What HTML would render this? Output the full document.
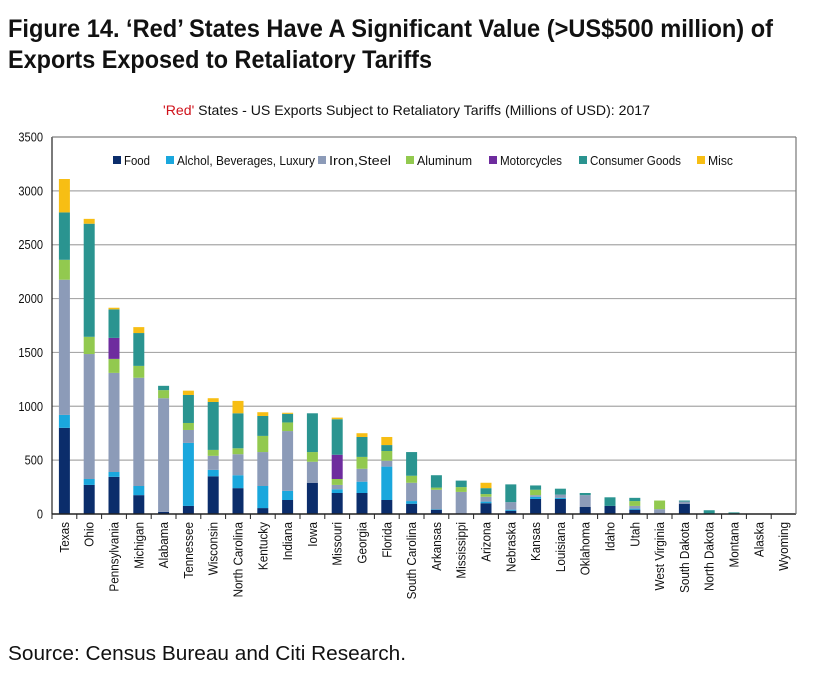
<!DOCTYPE html>
<html><head><meta charset="utf-8">
<style>
html,body{margin:0;padding:0;background:#fff;}
svg{display:block;font-family:"Liberation Sans Narrow","Liberation Sans",sans-serif;}
</style></head>
<body>
<svg id="c" width="835" height="676" xmlns="http://www.w3.org/2000/svg">
<text x="8" y="37" font-size="25" font-weight="bold" fill="#111" textLength="765" lengthAdjust="spacingAndGlyphs">Figure 14. ‘Red’ States Have A Significant Value (&gt;US$500 million) of</text>
<text x="8" y="68" font-size="25" font-weight="bold" fill="#111" textLength="424" lengthAdjust="spacingAndGlyphs">Exports Exposed to Retaliatory Tariffs</text>
<text x="163" y="115" font-size="14" fill="#111" textLength="487" lengthAdjust="spacingAndGlyphs"><tspan fill="#d0121b">'Red'</tspan> States - US Exports Subject to Retaliatory Tariffs (Millions of USD):  2017</text>
<text x="8" y="660" font-size="20" fill="#111" font-family="Liberation Sans, sans-serif" textLength="398" lengthAdjust="spacingAndGlyphs">Source: Census Bureau and Citi Research.</text>
<g id="g"></g>
</svg>
<script>
const g=document.getElementById('g');
const NS='http://www.w3.org/2000/svg';
function el(t,a,txt){const e=document.createElementNS(NS,t);for(const k in a)e.setAttribute(k,a[k]);if(txt!==undefined)e.textContent=txt;g.appendChild(e);return e;}
const X0=52,X1=796,Y0=514,YT=137,k=(Y0-YT)/3500;
const cols=['#0b2d6b','#1aa7dd','#8c9bb8','#92c94f','#6e2c9e','#2a9490','#f7be14'];
const d=[
['Texas',800,920,2175,2360,2360,2800,3110],
['Ohio',270,325,1485,1645,1645,2695,2740],
['Pennsylvania',345,390,1310,1440,1635,1900,1915],
['Michigan',175,260,1265,1375,1375,1680,1735],
['Alabama',20,20,1075,1150,1150,1190,1190],
['Tennessee',75,660,780,845,845,1105,1145],
['Wisconsin',350,410,540,595,595,1040,1075],
['North Carolina',240,360,555,610,610,935,1050],
['Kentucky',55,260,575,725,725,910,945],
['Indiana',130,215,770,850,850,930,940],
['Iowa',290,290,485,575,575,935,935],
['Missouri',195,230,270,325,550,880,895],
['Georgia',195,300,420,530,530,715,750],
['Florida',130,440,495,585,585,640,715],
['South Carolina',95,120,290,355,355,575,575],
['Arkansas',40,45,225,245,245,360,360],
['Mississippi',0,0,205,250,250,310,310],
['Arizona',100,115,160,185,185,240,290],
['Nebraska',30,40,110,110,110,275,275],
['Kansas',140,160,175,225,225,265,265],
['Louisiana',140,150,180,180,180,235,235],
['Oklahoma',65,65,175,175,175,195,195],
['Idaho',75,75,75,75,75,155,155],
['Utah',40,50,75,120,120,150,150],
['West Virginia',0,0,45,125,125,125,125],
['South Dakota',95,95,115,115,115,125,125],
['North Dakota',0,0,0,0,0,35,35],
['Montana',0,0,0,0,0,15,15],
['Alaska',0,0,0,0,0,0,0],
['Wyoming',0,0,0,0,0,0,0]];
for(let v=500;v<=3500;v+=500){const y=Y0-v*k;el('line',{x1:X0,x2:X1,y1:y,y2:y,stroke:'#a8a8a8','stroke-width':1.2});}
for(let v=0;v<=3500;v+=500){const y=Y0-v*k;const t=el('text',{x:43,y:y+4.5,'font-size':13,'text-anchor':'end',fill:'#111'},v);t.setAttribute('textLength',(t.getComputedTextLength()*0.85).toFixed(1));t.setAttribute('lengthAdjust','spacingAndGlyphs');}
const w=(X1-X0)/30;
d.forEach((r,i)=>{const cx=X0+w*(i+0.5);let prev=0;
 for(let j=0;j<7;j++){const top=r[j+1];if(top>prev){el('rect',{x:cx-5.5,y:Y0-top*k,width:11,height:(top-prev)*k,fill:cols[j]});}prev=Math.max(prev,top);}
 el('line',{x1:X0+w*i,x2:X0+w*i,y1:Y0,y2:Y0+5,stroke:'#222'});
 const t=el('text',{transform:`translate(${cx+4.5},${Y0+8}) rotate(-90)`,'font-size':13,'text-anchor':'end',fill:'#111'},r[0]);
 t.setAttribute('textLength',(t.getComputedTextLength()*0.9).toFixed(1));t.setAttribute('lengthAdjust','spacingAndGlyphs');
});
el('line',{x1:X0,x2:X1,y1:Y0,y2:Y0,stroke:'#222','stroke-width':1.5});
el('line',{x1:X0,x2:X0,y1:YT,y2:Y0,stroke:'#222','stroke-width':1.2});
el('line',{x1:X0,x2:X1,y1:YT,y2:YT,stroke:'#777','stroke-width':1});
el('line',{x1:X1,x2:X1,y1:YT,y2:Y0,stroke:'#777','stroke-width':1.2});
const leg=[['Food',113,26],['Alchol, Beverages, Luxury',166,138],['Iron,Steel',318,62],['Aluminum',406,55],['Motorcycles',489,62],['Consumer Goods',579,91],['Misc',697,25]];
leg.forEach((l,i)=>{el('rect',{x:l[1],y:156,width:8,height:8,fill:cols[i]});el('text',{x:l[1]+11,y:165,'font-size':13,fill:'#111',textLength:l[2],lengthAdjust:'spacingAndGlyphs'},l[0]);});
</script>
</body></html>
